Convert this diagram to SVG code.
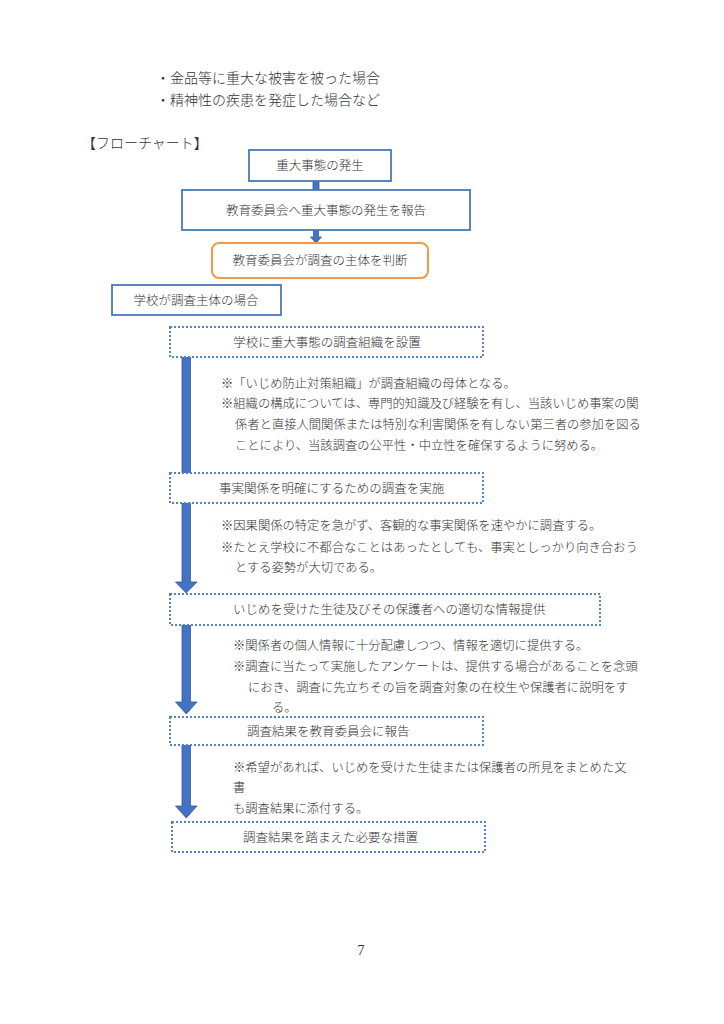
<svg xmlns="http://www.w3.org/2000/svg" width="724" height="1024" viewBox="0 0 724 1024">
<style>
text{font-family:"Noto Sans CJK JP","Noto Sans",sans-serif;fill:#333;font-weight:300;}
.big{font-size:14px;}
.box{font-size:12.5px;}
.note{font-size:12.3px;}
.solid{fill:#fff;stroke:#4a78b8;stroke-width:1.8;}
.orange{fill:#fff;stroke:#ef9a4a;stroke-width:2;}
.dot{fill:#fff;stroke:#5584c4;stroke-width:2;stroke-dasharray:2 2;}
.arr{fill:#4472c4;stroke:#2f5a9e;stroke-width:0.8;}
</style>
<rect width="724" height="1024" fill="#fff"/>
<text class="big" x="156" y="83">・金品等に重大な被害を被った場合</text>
<text class="big" x="156" y="105">・精神性の疾患を発症した場合など</text>
<text class="big" x="82" y="148">【フローチャート】</text>

<g id="connectors">
<rect class="arr" x="313" y="181" width="6" height="10"/>
<path class="arr" d="M313.5 230 H318.5 V237 H321.5 L316 243 L310.5 237 H313.5 Z"/>
<rect class="arr" x="182" y="356" width="8.5" height="118"/>
<path class="arr" d="M182 503 H190.5 V582 H197 L186.25 593 L175.5 582 H182 Z"/>
<path class="arr" d="M182 625 H190.5 V702 H197 L186.25 714 L175.5 702 H182 Z"/>
<path class="arr" d="M182 745 H190.5 V806 H197 L186.25 818 L175.5 806 H182 Z"/>
</g>

<g id="n1"><rect class="solid" x="249" y="150" width="142" height="31"/><text class="box" x="320" y="170" text-anchor="middle">重大事態の発生</text></g>
<g id="n2"><rect class="solid" x="182" y="190" width="288" height="40"/><text class="box" x="326" y="214.5" text-anchor="middle">教育委員会へ重大事態の発生を報告</text></g>
<g id="n3"><rect class="orange" x="212" y="243" width="216" height="35" rx="7"/><text class="box" x="320" y="265" text-anchor="middle">教育委員会が調査の主体を判断</text></g>
<g id="n4"><rect class="solid" x="112" y="285" width="169" height="30"/><text class="box" x="196" y="304.5" text-anchor="middle">学校が調査主体の場合</text></g>
<g id="n5"><rect class="dot" x="170" y="327" width="313" height="30"/><text class="box" x="327" y="346.5" text-anchor="middle">学校に重大事態の調査組織を設置</text></g>
<g id="n6"><rect class="dot" x="170" y="473" width="313" height="30"/><text class="box" x="219" y="492.5">事実関係を明確にするための調査を実施</text></g>
<g id="n7"><rect class="dot" x="170" y="594" width="430" height="31"/><text class="box" x="233" y="614">いじめを受けた生徒及びその保護者への適切な情報提供</text></g>
<g id="n8"><rect class="dot" x="170" y="717" width="313" height="28"/><text class="box" x="247" y="735.5">調査結果を教育委員会に報告</text></g>
<g id="n9"><rect class="dot" x="172" y="822" width="313" height="30"/><text class="box" x="243" y="841.5">調査結果を踏まえた必要な措置</text></g>

<g id="notes">
<text class="note" x="221" y="388">※「いじめ防止対策組織」が調査組織の母体となる。</text>
<text class="note" x="221" y="408">※組織の構成については、専門的知識及び経験を有し、当該いじめ事案の関</text>
<text class="note" x="235" y="429">係者と直接人間関係または特別な利害関係を有しない第三者の参加を図る</text>
<text class="note" x="235" y="450">ことにより、当該調査の公平性・中立性を確保するように努める。</text>
<text class="note" x="221" y="530">※因果関係の特定を急がず、客観的な事実関係を速やかに調査する。</text>
<text class="note" x="221" y="552">※たとえ学校に不都合なことはあったとしても、事実としっかり向き合おう</text>
<text class="note" x="235" y="572">とする姿勢が大切である。</text>
<text class="note" x="233" y="650">※関係者の個人情報に十分配慮しつつ、情報を適切に提供する。</text>
<text class="note" x="233" y="671">※調査に当たって実施したアンケートは、提供する場合があることを念頭</text>
<text class="note" x="248" y="692">におき、調査に先立ちその旨を調査対象の在校生や保護者に説明をす</text>
<text class="note" x="272" y="712">る。</text>
<text class="note" x="233" y="772">※希望があれば、いじめを受けた生徒または保護者の所見をまとめた文</text>
<text class="note" x="233" y="792">書</text>
<text class="note" x="233" y="813">も調査結果に添付する。</text>
</g>
<text x="361" y="955" style="font-family:'Liberation Serif',serif;font-size:14px;font-weight:400" text-anchor="middle">7</text>
</svg>
